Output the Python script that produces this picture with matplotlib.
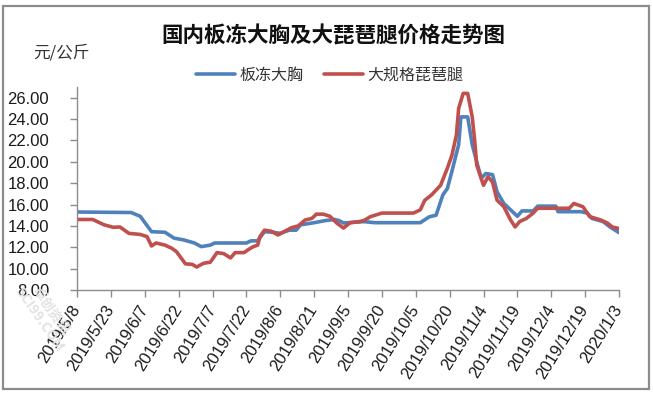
import matplotlib
matplotlib.use("Agg")
import matplotlib.pyplot as plt
from matplotlib.patches import Rectangle
import pandas as pd

plt.rcParams['font.family'] = ['Noto Sans CJK SC', 'DejaVu Sans']

title = "国内板冻大胸及大琵琶腿价格走势图"
unit_label = "元/公斤"
series_names = ["板冻大胸", "大规格琵琶腿"]

breast_dates = [
    "2019-05-08", "2019-06-01", "2019-06-05", "2019-06-10", "2019-06-16", "2019-06-20", "2019-06-24", "2019-06-29", "2019-07-02", "2019-07-06",
    "2019-07-08", "2019-07-22", "2019-07-24", "2019-07-27", "2019-07-30", "2019-08-03", "2019-08-06", "2019-08-10", "2019-08-13", "2019-08-15",
    "2019-08-21", "2019-08-26", "2019-08-30", "2019-09-01", "2019-09-03", "2019-09-12", "2019-09-17", "2019-10-07", "2019-10-11", "2019-10-14",
    "2019-10-17", "2019-10-19", "2019-10-21", "2019-10-24", "2019-10-25", "2019-10-28", "2019-10-30", "2019-11-01", "2019-11-03", "2019-11-05",
    "2019-11-08", "2019-11-10", "2019-11-13", "2019-11-16", "2019-11-19", "2019-11-21", "2019-11-26", "2019-11-28", "2019-12-06", "2019-12-07",
    "2019-12-17", "2019-12-20", "2019-12-22", "2019-12-27", "2019-12-30", "2020-01-03",
]
breast_values = [
    15.3, 15.25, 14.9, 13.46, 13.4, 12.85, 12.7, 12.4, 12.06, 12.2,
    12.4, 12.4, 12.6, 12.6, 13.46, 13.4, 13.3, 13.6, 13.6, 14.1,
    14.3, 14.5, 14.6, 14.5, 14.27, 14.4, 14.3, 14.3, 14.85, 15.0,
    16.9, 17.5, 19.1, 21.6, 24.2, 24.2, 21.6, 20.0, 18.45, 18.9,
    18.8, 17.2, 16.1, 15.5, 14.9, 15.4, 15.4, 15.85, 15.85, 15.33,
    15.33, 15.2, 14.7, 14.4, 13.9, 13.37,
]

leg_dates = [
    "2019-05-08", "2019-05-15", "2019-05-20", "2019-05-24", "2019-05-27", "2019-05-31", "2019-06-05", "2019-06-08", "2019-06-10", "2019-06-12",
    "2019-06-16", "2019-06-19", "2019-06-21", "2019-06-25", "2019-06-28", "2019-06-30", "2019-07-03", "2019-07-06", "2019-07-09", "2019-07-12",
    "2019-07-15", "2019-07-17", "2019-07-21", "2019-07-23", "2019-07-25", "2019-07-27", "2019-07-28", "2019-07-30", "2019-08-02", "2019-08-05",
    "2019-08-08", "2019-08-11", "2019-08-14", "2019-08-17", "2019-08-20", "2019-08-22", "2019-08-25", "2019-08-28", "2019-08-31", "2019-09-03",
    "2019-09-06", "2019-09-10", "2019-09-12", "2019-09-15", "2019-09-20", "2019-10-04", "2019-10-07", "2019-10-09", "2019-10-12", "2019-10-16",
    "2019-10-19", "2019-10-21", "2019-10-23", "2019-10-24", "2019-10-26", "2019-10-28", "2019-10-30", "2019-10-31", "2019-11-01", "2019-11-04",
    "2019-11-06", "2019-11-08", "2019-11-10", "2019-11-13", "2019-11-16", "2019-11-18", "2019-11-20", "2019-11-23", "2019-11-26", "2019-11-28",
    "2019-12-12", "2019-12-14", "2019-12-18", "2019-12-21", "2019-12-26", "2019-12-29", "2019-12-31", "2020-01-03",
]
leg_values = [
    14.6, 14.6, 14.1, 13.87, 13.9, 13.3, 13.2, 13.0, 12.12, 12.4,
    12.2, 11.9, 11.6, 10.45, 10.4, 10.15, 10.5, 10.6, 11.5, 11.4,
    11.0, 11.5, 11.5, 11.8, 12.05, 12.2, 13.0, 13.6, 13.5, 13.15,
    13.5, 13.83, 14.0, 14.55, 14.7, 15.1, 15.1, 14.9, 14.27, 13.8,
    14.3, 14.4, 14.5, 14.87, 15.2, 15.2, 15.5, 16.4, 16.9, 17.8,
    19.4, 20.6, 22.5, 25.0, 26.4, 26.4, 24.2, 22.2, 19.7, 17.8,
    18.6, 18.1, 16.4, 15.8, 14.55, 13.9, 14.4, 14.7, 15.2, 15.65,
    15.65, 16.1, 15.8, 14.87, 14.55, 14.25, 13.9, 13.75,
]

x_tick_labels = [
    "2019/5/8", "2019/5/23", "2019/6/7", "2019/6/22", "2019/7/7", "2019/7/22", "2019/8/6", "2019/8/21",
    "2019/9/5", "2019/9/20", "2019/10/5", "2019/10/20", "2019/11/4", "2019/11/19", "2019/12/4", "2019/12/19", "2020/1/3",
]
y_ticks = [8, 10, 12, 14, 16, 18, 20, 22, 24, 26]

W, H = 653, 398
fig = plt.figure(figsize=(W / 100, H / 100), dpi=100)
fig.patch.set_facecolor("white")

# outer frame
fig.add_artist(Rectangle((3 / W, 1 - 389 / H), (649 - 3) / W, (389 - 6) / H,
                         transform=fig.transFigure, fill=False, edgecolor="#8c8c8c", linewidth=1.6))

ax = fig.add_axes([77 / W, 1 - 290 / H, (619 - 77) / W, (290 - 87) / H])

bx = pd.to_datetime(breast_dates)
lx = pd.to_datetime(leg_dates)
ax.plot(bx, breast_values, color="#4F81BD", lw=2.6, solid_joinstyle="round", solid_capstyle="round", label=series_names[0])
ax.plot(lx, leg_values, color="#C0504D", lw=2.6, solid_joinstyle="round", solid_capstyle="round", label=series_names[1])

tick_dates = pd.to_datetime(x_tick_labels, format="%Y/%m/%d")
ax.set_xlim(tick_dates[0], tick_dates[-1])
ax.set_xticks(tick_dates)
ax.set_xticklabels(x_tick_labels, rotation=58, ha="right", va="center", rotation_mode="anchor",
                   fontsize=12, family=["Liberation Sans", "DejaVu Sans"], color="#1a1a1a")
ax.set_ylim(8, 27)
ax.set_yticks(y_ticks)
ax.set_yticklabels([f"{v:.2f}" for v in y_ticks], fontsize=12,
                   family=["Liberation Sans", "DejaVu Sans"], color="#1a1a1a")

for s in ["top", "right"]:
    ax.spines[s].set_visible(False)
for s in ["left", "bottom"]:
    ax.spines[s].set_color("#8c8c8c")
    ax.spines[s].set_linewidth(1.0)
ax.tick_params(axis="both", direction="out", length=5, width=1.0, color="#8c8c8c")
ax.tick_params(axis="x", pad=7)
ax.tick_params(axis="y", pad=15)

fig.text(333 / W, 1 - 36 / H, title, ha="center", va="center", fontsize=15.5, fontweight="bold", color="#111111")
fig.text(33 / W, 1 - 53 / H, unit_label, ha="left", va="center", fontsize=12, color="#333333")

fig.legend(loc="center", bbox_to_anchor=(330 / W, 1 - 75 / H), ncol=2, frameon=False,
           fontsize=11.5, handlelength=2.4, handletextpad=0.3, columnspacing=1.3,
           labelcolor="#333333")

# faint watermark
fig.text(45 / W, 1 - 315 / H, "卓创资讯\nSCI99.COM", rotation=-55, ha="center", va="center",
         fontsize=10, color="#e2e2e2", fontweight="bold", linespacing=1.0, zorder=0)

fig.savefig("out.png", dpi=100, facecolor="white")
